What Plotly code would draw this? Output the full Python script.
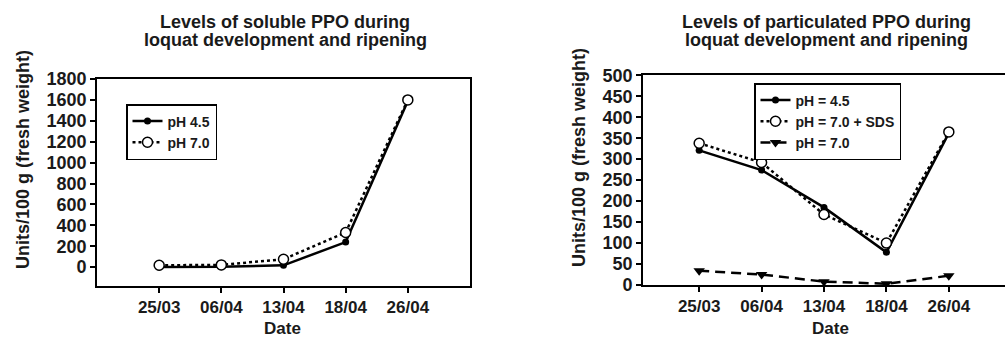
import plotly.graph_objects as go

dates = ["25/03", "06/04", "13/04", "18/04", "26/04"]

# Soluble PPO (left panel)
soluble_ph45 = [2, 3, 18, 240, 1590]
soluble_ph70 = [18, 22, 76, 332, 1600]

# Particulated PPO (right panel)
part_ph45 = [321, 274, 185, 78, 362]
part_ph70_sds = [338, 292, 168, 100, 365]
part_ph70 = [34, 25, 8, 3, 22]

W, H = 1005, 339
FONT = "Liberation Sans, Arial, sans-serif"
INK = "#1a1a1a"

def px_x(x):
    return x / W

def px_y(y):
    return 1 - y / H

fig = go.Figure()

solid = dict(color="black", width=2.5)
dotted = dict(color="black", width=2.5, dash="dot")
dashed = dict(color="black", width=2.5, dash="10px,6px")

fig.add_trace(go.Scatter(x=dates, y=soluble_ph45, name="pH 4.5", mode="lines+markers",
                         line=solid, marker=dict(symbol="circle", size=7, color="black"),
                         xaxis="x", yaxis="y", legend="legend"))
fig.add_trace(go.Scatter(x=dates, y=soluble_ph70, name="pH 7.0", mode="lines+markers",
                         line=dotted, marker=dict(symbol="circle", size=10, color="white",
                                                  line=dict(color="black", width=1.5)),
                         xaxis="x", yaxis="y", legend="legend"))

fig.add_trace(go.Scatter(x=dates, y=part_ph45, name="pH = 4.5", mode="lines+markers",
                         line=solid, marker=dict(symbol="circle", size=7, color="black"),
                         xaxis="x2", yaxis="y2", legend="legend2"))
fig.add_trace(go.Scatter(x=dates, y=part_ph70_sds, name="pH = 7.0 + SDS", mode="lines+markers",
                         line=dotted, marker=dict(symbol="circle", size=10, color="white",
                                                  line=dict(color="black", width=1.5)),
                         xaxis="x2", yaxis="y2", legend="legend2"))
fig.add_trace(go.Scatter(x=dates, y=part_ph70, name="pH = 7.0", mode="lines+markers",
                         line=dashed, marker=dict(symbol="triangle-down", size=10, color="black"),
                         xaxis="x2", yaxis="y2", legend="legend2"))

xtickfont = dict(family=FONT, size=17, color=INK, weight="bold")
ytickfont = dict(family=FONT, size=18, color=INK, weight="bold")
axis_common = dict(showgrid=False, zeroline=False, showline=True, linecolor="black", linewidth=1.8,
                   ticks="outside", ticklen=5, tickwidth=1.5, tickcolor="black", automargin=False)

fig.update_layout(
    width=W, height=H, autosize=False,
    margin=dict(l=0, r=0, t=0, b=0, pad=0, autoexpand=False),
    paper_bgcolor="white", plot_bgcolor="white",
    font=dict(family=FONT, color=INK),
    xaxis=dict(domain=[px_x(97), px_x(470)], anchor="y", type="category", range=[-1, 5],
               mirror=True, tickfont=xtickfont, **axis_common),
    yaxis=dict(domain=[px_y(286), px_y(79)], anchor="x", range=[-180, 1800],
               tickvals=list(range(0, 1801, 200)), mirror=True, tickfont=ytickfont, **axis_common),
    xaxis2=dict(domain=[px_x(643), 1.0], anchor="y2", type="category", range=[-0.9, 4.9],
                mirror=True, tickfont=xtickfont, **axis_common),
    yaxis2=dict(domain=[px_y(285), px_y(75.3)], anchor="x2", range=[0, 500],
                tickvals=list(range(0, 501, 50)), mirror=False, tickfont=ytickfont, **axis_common),
    legend=dict(x=px_x(126), y=px_y(104), xanchor="left", yanchor="top",
                bgcolor="white", bordercolor="black", borderwidth=1.5,
                font=dict(family=FONT, size=14, color=INK, weight="bold")),
    legend2=dict(x=px_x(754), y=px_y(83), xanchor="left", yanchor="top",
                 bgcolor="white", bordercolor="black", borderwidth=1.5,
                 font=dict(family=FONT, size=14, color=INK, weight="bold")),
    showlegend=True,
)

def font(sz):
    return dict(family=FONT, size=sz, color=INK, weight="bold")

annotations = [
    # Titles
    dict(text="Levels of soluble PPO during", x=px_x(285), y=px_y(22), font=font(18)),
    dict(text="loquat development and ripening", x=px_x(285), y=px_y(40), font=font(18)),
    dict(text="Levels of particulated PPO during", x=px_x(826), y=px_y(22), font=font(18)),
    dict(text="loquat development and ripening", x=px_x(826), y=px_y(40), font=font(18)),
    # X axis titles
    dict(text="Date", x=px_x(282), y=px_y(328), font=font(17)),
    dict(text="Date", x=px_x(830), y=px_y(328), font=font(17)),
    # Y axis titles
    dict(text="Units/100 g (fresh weight)", x=px_x(23), y=px_y(160), textangle=-90, font=font(18)),
    dict(text="Units/100 g (fresh weight)", x=px_x(579), y=px_y(158), textangle=-90, font=font(18)),
]
for a in annotations:
    a.update(xref="paper", yref="paper", showarrow=False, xanchor="center", yanchor="middle")
fig.update_layout(annotations=annotations)

fig.write_html("out.html", config={"displayModeBar": False},
               post_script="document.body.style.margin='0';document.body.style.overflow='hidden';")
